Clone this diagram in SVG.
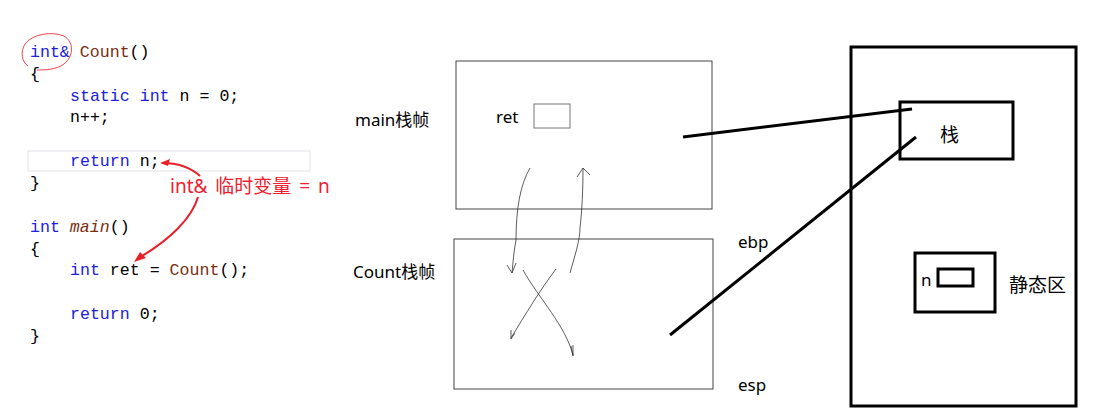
<svg xmlns="http://www.w3.org/2000/svg" width="1116" height="420" viewBox="0 0 1116 420">
<defs>
<style>
.code{font-family:"Liberation Mono","DejaVu Sans Mono",monospace;font-size:16.6px;fill:#000}
.kw{fill:#2020e0}
.fn{fill:#7a2e10}
.lbl{font-family:"Noto Sans","Noto Sans CJK SC",sans-serif;font-size:17px;fill:#000}
.cjk{font-family:"Noto Sans CJK SC",sans-serif;font-size:19px;fill:#000}
.frame{fill:#fff;stroke:#444;stroke-width:1}
.thick{fill:none;stroke:#000;stroke-width:3}
.hand{fill:none;stroke:#333;stroke-width:0.8}
.red{fill:none;stroke:#e8202a;stroke-width:2}
</style>
</defs>
<rect width="1116" height="420" fill="#fff"/>
<g id="code">
<rect x="28" y="151" width="282" height="20" fill="#fff" stroke="#e2e2ea" stroke-width="1"/>
<text class="code" x="30" y="57"><tspan class="kw">int&amp;</tspan> <tspan class="fn">Count</tspan>()</text>
<text class="code" x="30" y="79">{</text>
<text class="code" x="70" y="101"><tspan class="kw">static int</tspan> n = 0;</text>
<text class="code" x="70" y="122">n++;</text>
<text class="code" x="70" y="166"><tspan class="kw">return</tspan> n;</text>
<text class="code" x="30" y="188">}</text>
<text class="code" x="30" y="232"><tspan class="kw">int</tspan> <tspan class="fn" font-style="italic">main</tspan>()</text>
<text class="code" x="30" y="254">{</text>
<text class="code" x="70" y="275"><tspan class="kw">int</tspan> ret = <tspan class="fn">Count</tspan>();</text>
<text class="code" x="70" y="319"><tspan class="kw">return</tspan> 0;</text>
<text class="code" x="30" y="341">}</text>
</g>
<g id="annotation">
<path d="M25,44 C32,34 52,31 64,36 C74,42 74,56 64,64 C56,70 44,70 37,70 M25,44 C20,52 22,62 28,66" fill="none" stroke="#e8303a" stroke-width="0.9"/>
<text x="170" y="193" font-family="'Noto Sans','Noto Sans CJK SC',sans-serif" font-size="19" fill="#f02030" word-spacing="3">int&amp; 临时变量 = n</text>
<path class="red" d="M162,163 C175,163 188,165 200,176"/>
<path d="M160,163 L170,159 L168,166 Z" fill="#e8202a"/>
<path class="red" d="M198,197 C192,218 170,240 137,259"/>
<path d="M134,262 L140,252 L146,258 Z" fill="#e8202a"/>
</g>
<g id="main-frame">
<rect class="frame" x="456" y="61" width="256" height="148"/>
<text class="lbl" x="355" y="126">main栈帧</text>
<text class="lbl" x="496" y="123">ret</text>
<rect x="534" y="104" width="36" height="24" fill="#fff" stroke="#777" stroke-width="1"/>
</g>
<g id="count-frame">
<rect class="frame" x="454" y="239" width="259" height="150"/>
<text class="lbl" x="353" y="278">Count栈帧</text>
<text class="lbl" x="738" y="248">ebp</text>
<text class="lbl" x="738" y="391">esp</text>
</g>
<g id="memory">
<rect class="thick" x="851" y="47" width="225" height="359"/>
<g id="stack">
<rect class="thick" x="900" y="102" width="113" height="57"/>
<text class="cjk" x="940" y="142">栈</text>
</g>
<g id="static">
<rect class="thick" x="915" y="253" width="80" height="59"/>
<text class="lbl" x="921" y="286">n</text>
<rect class="thick" x="938" y="269" width="35" height="17"/>
<text class="cjk" x="1009" y="292">静态区</text>
</g>
</g>
<g id="connectors">
<path class="hand" d="M530,168 C520,185 516,210 516,240 C514,250 513,262 512,273"/>
<path class="hand" d="M507,265 L512,273 L516,263"/>
<path class="hand" d="M570,273 C575,255 580,240 580,228 C582,210 583,190 583,168"/>
<path class="hand" d="M577,177 L583,168 L590,175"/>
<path class="hand" d="M523,270 C540,300 565,325 573,355"/>
<path class="hand" d="M571,346 L573,356 L573,345"/>
<path class="hand" d="M556,269 C540,290 525,315 511,338"/>
<path class="hand" d="M511,330 L511,339 L515,333"/>
<line class="thick" x1="683" y1="137" x2="912" y2="109"/>
<line class="thick" x1="670" y1="335" x2="916" y2="137"/>
</g>
</svg>
